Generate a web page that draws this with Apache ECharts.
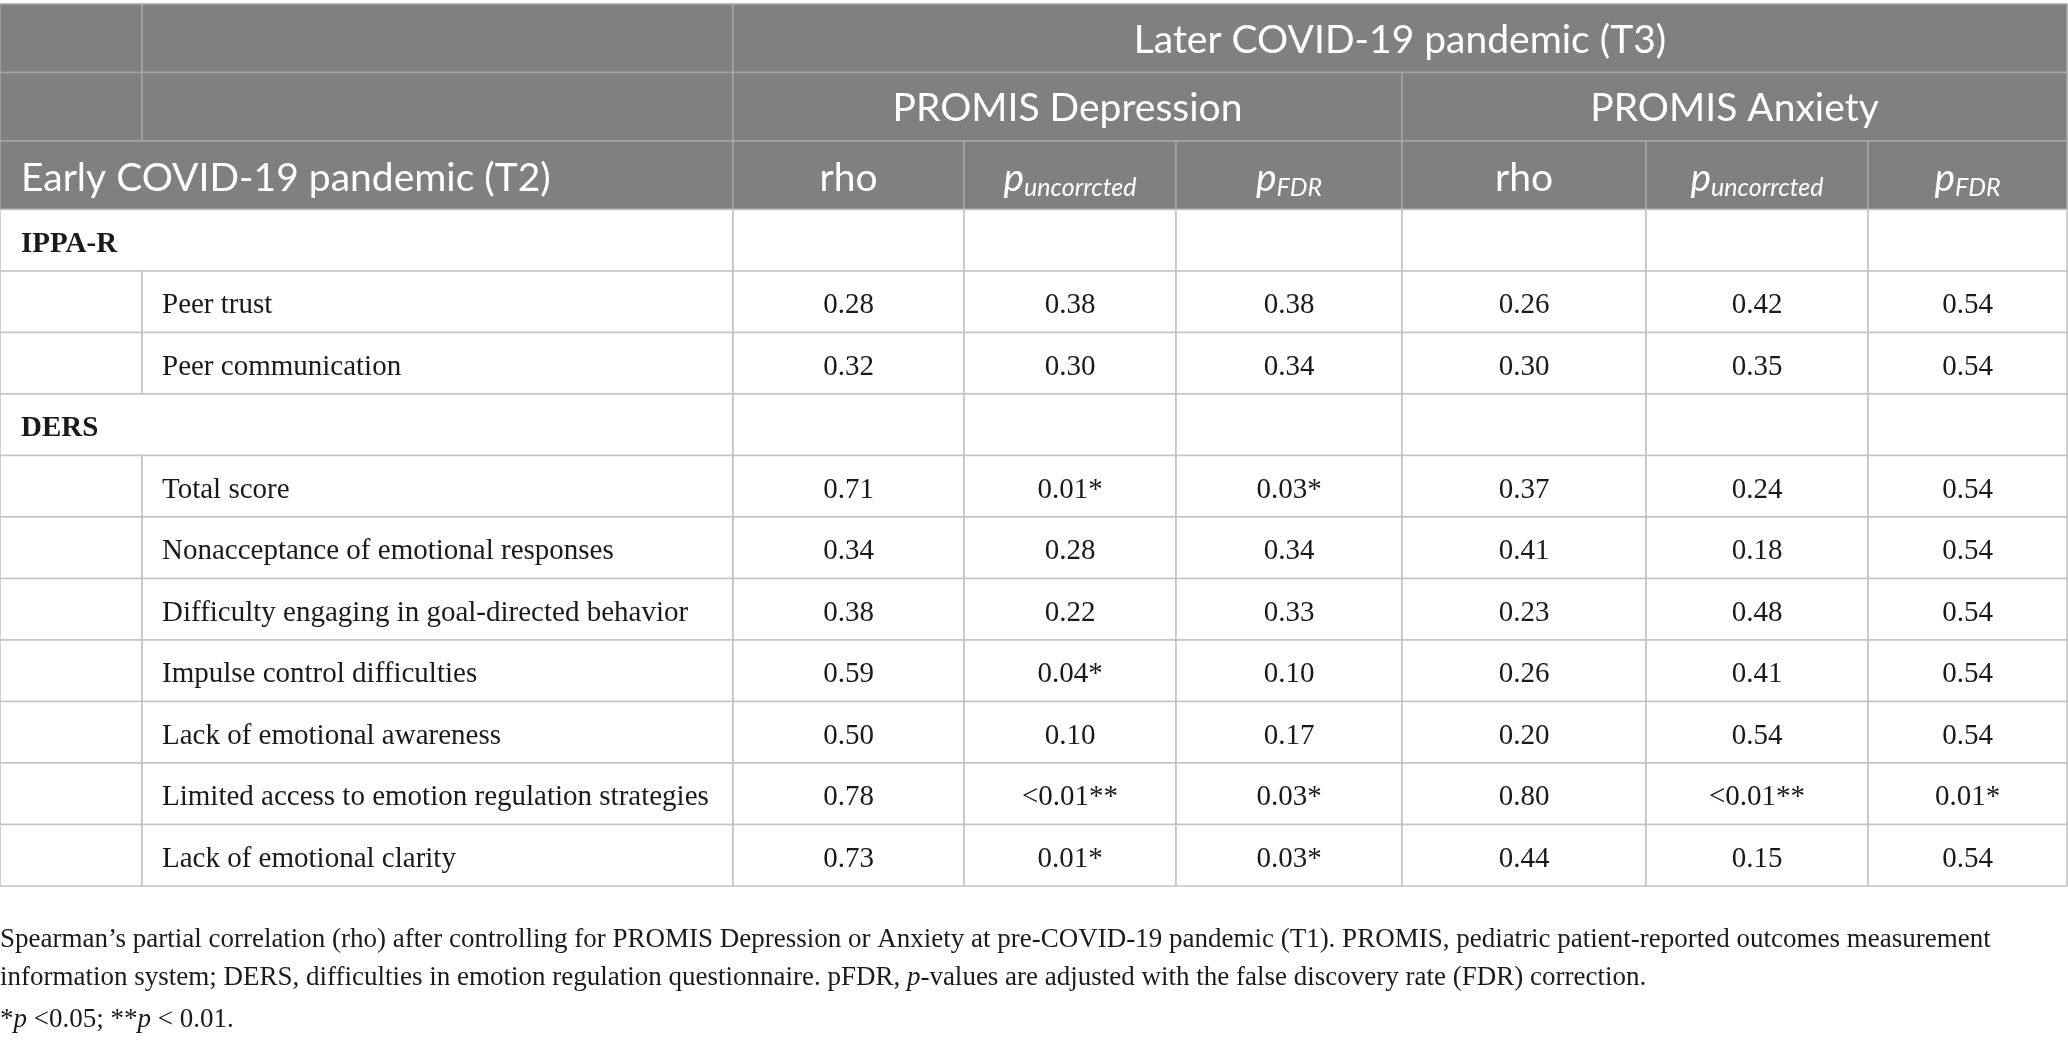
<!DOCTYPE html>
<html lang="en">
<head>
    <meta charset="UTF-8">
    <title>PROMIS correlations table</title>
    <script src="https://cdn.jsdelivr.net/npm/echarts@6.0.0/dist/echarts.min.js"></script>
    <style>
        html, body, #main {
            margin: 0;
            padding: 0;
            width: 100%;
            height: 100%;
            background: #fff;
        }
    </style>
</head>
<body>
<div id="main"></div>
<script type="text/javascript">
    // table content
    const headerTop = 'Later COVID-19 pandemic (T3)';
    const outcomes = ['PROMIS Depression', 'PROMIS Anxiety'];
    const rowHeader = 'Early COVID-19 pandemic (T2)';
    const statLabels = ['rho', '{p|p}{sub|uncorrcted}', '{p|p}{sub|FDR}'];

    const groups = ['IPPA-R', 'DERS'];
    const rowLabels = [
        'Peer trust',
        'Peer communication',
        'Total score',
        'Nonacceptance of emotional responses',
        'Difficulty engaging in goal-directed behavior',
        'Impulse control difficulties',
        'Lack of emotional awareness',
        'Limited access to emotion regulation strategies',
        'Lack of emotional clarity'
    ];
    const rowGroup = [0, 0, 1, 1, 1, 1, 1, 1, 1];

    const depRho = [0.28, 0.32, 0.71, 0.34, 0.38, 0.59, 0.50, 0.78, 0.73];
    const depP = ['0.38', '0.30', '0.01*', '0.28', '0.22', '0.04*', '0.10', '<0.01**', '0.01*'];
    const depFdr = ['0.38', '0.34', '0.03*', '0.34', '0.33', '0.10', '0.17', '0.03*', '0.03*'];
    const anxRho = [0.26, 0.30, 0.37, 0.41, 0.23, 0.26, 0.20, 0.80, 0.44];
    const anxP = ['0.42', '0.35', '0.24', '0.18', '0.48', '0.41', '0.54', '<0.01**', '0.15'];
    const anxFdr = ['0.54', '0.54', '0.54', '0.54', '0.54', '0.54', '0.54', '0.01*', '0.54'];

    const notes = [
        'Spearman\u2019s partial correlation (rho) after controlling for PROMIS Depression or Anxiety at pre-COVID-19 pandemic (T1). PROMIS, pediatric patient-reported outcomes measurement',
        'information system; DERS, difficulties in emotion regulation questionnaire. pFDR, {i|p}-values are adjusted with the false discovery rate (FDR) correction.',
        '*{i|p} <0.05; **{i|p} < 0.01.'
    ];
    const noteTops = [926, 964, 1006];

    // layout (table units = pixels)
    const colEdges = [0, 142, 733, 964, 1176, 1402, 1646, 1868, 2067];
    const headerH = 68.5, bodyH = 61.5;
    const nHead = 3;
    const nBody = groups.length + rowLabels.length;
    const tableH = nHead * headerH + nBody * bodyH;

    function rowTop(r) {
        return r < nHead ? r * headerH : nHead * headerH + (r - nHead) * bodyH;
    }
    function rowBottom(r) {
        return rowTop(r) + (r < nHead ? headerH : bodyH);
    }

    const cells = [];
    function addCell(c0, c1, r, text, kind) {
        cells.push({ c0: c0, c1: c1, r: r, text: text, kind: kind });
    }

    // header rows
    addCell(0, 1, 0, '', 'head');
    addCell(1, 2, 0, '', 'head');
    addCell(2, 8, 0, headerTop, 'head');
    addCell(0, 1, 1, '', 'head');
    addCell(1, 2, 1, '', 'head');
    addCell(2, 5, 1, outcomes[0], 'head');
    addCell(5, 8, 1, outcomes[1], 'head');
    addCell(0, 2, 2, rowHeader, 'headLeft');
    for (let k = 0; k < 6; k++) {
        addCell(2 + k, 3 + k, 2, statLabels[k % 3], 'head');
    }

    // body rows
    let r = nHead;
    groups.forEach((g, gi) => {
        addCell(0, 2, r, g, 'group');
        for (let k = 2; k < 8; k++) addCell(k, k + 1, r, '', 'blank');
        r++;
        rowLabels.forEach((label, i) => {
            if (rowGroup[i] !== gi) return;
            addCell(0, 1, r, '', 'blank');
            addCell(1, 2, r, label, 'label');
            const vals = [depRho[i].toFixed(2), depP[i], depFdr[i], anxRho[i].toFixed(2), anxP[i], anxFdr[i]];
            vals.forEach((v, k) => addCell(2 + k, 3 + k, r, v, 'value'));
            r++;
        });
    });

    const sans = 'Lato';
    const serif = 'Liberation Serif';
    const headRich = {
        p: { fontFamily: sans, fontSize: 39, fontStyle: 'italic', fill: '#fff', lineHeight: 44 },
        sub: { fontFamily: sans, fontSize: 25, fontStyle: 'italic', fill: '#fff', lineHeight: 17, verticalAlign: 'bottom' }
    };

    function renderCell(params, api) {
        const cell = cells[params.dataIndex];
        const p0 = api.coord([api.value(0), api.value(2)]);
        const p1 = api.coord([api.value(1), api.value(3)]);
        const x = p0[0], y = p0[1], w = p1[0] - p0[0], h = p1[1] - p0[1];
        const isHead = cell.kind === 'head' || cell.kind === 'headLeft';
        const children = [{
            type: 'rect',
            shape: { x: x, y: y, width: w, height: h },
            style: {
                fill: isHead ? '#808080' : '#fff',
                stroke: isHead ? '#a6a6a6' : '#c4c4c4',
                lineWidth: isHead ? 1.5 : 1.6
            }
        }];
        if (cell.text) {
            let style;
            if (isHead) {
                const left = cell.kind === 'headLeft';
                style = {
                    text: cell.text,
                    x: left ? x + 21 : x + w / 2,
                    y: y + h / 2 + (cell.r === 2 ? 3 : 2),
                    align: left ? 'left' : 'center',
                    verticalAlign: 'middle',
                    fill: '#fff',
                    fontFamily: sans,
                    fontSize: 39,
                    rich: headRich
                };
            } else if (cell.kind === 'group') {
                style = {
                    text: cell.text, x: x + 21, y: y + h / 2 + 4,
                    align: 'left', verticalAlign: 'middle',
                    fill: '#1a1a1a', fontFamily: serif, fontSize: 29, fontWeight: 'bold'
                };
            } else if (cell.kind === 'label') {
                style = {
                    text: cell.text, x: x + 20, y: y + h / 2 + 4,
                    align: 'left', verticalAlign: 'middle',
                    fill: '#1a1a1a', fontFamily: serif, fontSize: 29
                };
            } else {
                style = {
                    text: cell.text, x: x + w / 2, y: y + h / 2 + 4,
                    align: 'center', verticalAlign: 'middle',
                    fill: '#1a1a1a', fontFamily: serif, fontSize: 29
                };
            }
            children.push({ type: 'text', style: style });
        }
        return { type: 'group', children: children };
    }

    const chart = echarts.init(document.getElementById('main'));
    const noteRich = { i: { fontFamily: serif, fontSize: 27, fontStyle: 'italic', fill: '#1a1a1a' } };

    chart.setOption({
        animation: false,
        grid: { left: 0, top: 4, width: 2068, height: tableH },
        xAxis: { type: 'value', min: 0, max: 2068, show: false },
        yAxis: { type: 'value', min: 0, max: tableH, inverse: true, show: false },
        series: [{
            type: 'custom',
            renderItem: renderCell,
            encode: { x: [0, 1], y: [2, 3] },
            data: cells.map(c => [colEdges[c.c0], colEdges[c.c1], rowTop(c.r), rowBottom(c.r)])
        }],
        graphic: notes.map((t, i) => ({
            type: 'text',
            left: 0,
            top: noteTops[i],
            style: {
                text: t,
                fill: '#1a1a1a',
                fontFamily: serif,
                fontSize: 27,
                rich: noteRich
            }
        }))
    });

    window.onresize = function () {
        chart.resize();
    };
</script>
</body>
</html>
